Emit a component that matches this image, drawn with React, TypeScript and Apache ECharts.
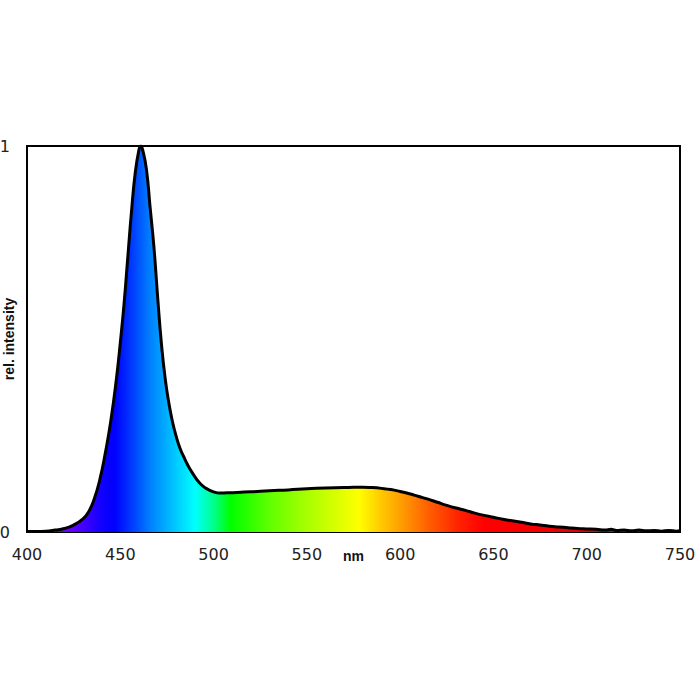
import React, { useEffect, useRef } from "react";
import * as echarts from "echarts";

const wavelengths = [
  400, 405, 410, 415, 420, 425, 430, 433, 436, 439, 442, 445, 448, 450, 452, 454, 456, 458, 460, 461, 462, 464, 466,
  468, 470, 472, 474, 476, 478, 480, 482, 484, 486, 488, 490, 492, 494, 496, 498, 500, 503, 510, 520, 530, 540, 550,
  560, 570, 575, 580, 585, 590, 595, 600, 605, 610, 615, 620, 625, 630, 635, 640, 645, 650, 655, 660, 665, 670, 675,
  680, 685, 690, 695, 700, 705, 710, 713, 716, 720, 724, 728, 732, 736, 740, 744, 748, 750,
];
const intensity = [
  0.001, 0.001, 0.002, 0.005, 0.009, 0.018, 0.034, 0.052, 0.085, 0.135, 0.205, 0.29, 0.4, 0.49, 0.59, 0.71, 0.83,
  0.93, 0.99, 1.0, 0.99, 0.94, 0.84, 0.74, 0.61, 0.49, 0.4, 0.335, 0.285, 0.247, 0.217, 0.195, 0.175, 0.158, 0.143,
  0.13, 0.12, 0.113, 0.108, 0.104, 0.101, 0.102, 0.104, 0.107, 0.109, 0.112, 0.114, 0.115, 0.116, 0.116, 0.115, 0.113,
  0.11, 0.105, 0.099, 0.092, 0.085, 0.077, 0.069, 0.062, 0.056, 0.049, 0.043, 0.038, 0.033, 0.029, 0.025, 0.021,
  0.018, 0.015, 0.013, 0.011, 0.009, 0.008, 0.007, 0.005, 0.007, 0.004, 0.005, 0.003, 0.005, 0.003, 0.004, 0.002,
  0.004, 0.002, 0.003,
];
const spectrumStops: [number, string][] = [
  [400, "#8a00ff"],
  [425, "#6000ff"],
  [440, "#1000ff"],
  [447, "#0000ff"],
  [457, "#0040ff"],
  [466, "#0080ff"],
  [478, "#00c0ff"],
  [490, "#00ffff"],
  [501, "#00ff80"],
  [509, "#00ff00"],
  [530, "#60ff00"],
  [550, "#a8ff00"],
  [568, "#e0ff00"],
  [578, "#ffff00"],
  [590, "#ffc800"],
  [600, "#ffa000"],
  [615, "#ff6000"],
  [632, "#ff2000"],
  [645, "#ff0000"],
  [700, "#e80000"],
  [750, "#d00000"],
];

export default function App() {
  const ref = useRef<HTMLDivElement>(null);
  useEffect(() => {
    if (!ref.current) return;
    const chart = echarts.init(ref.current, null, { renderer: "svg" });
    const xMin = 400;
    const xMax = 750;
    chart.setOption({
      animation: false,
      backgroundColor: "#ffffff",
      grid: {
        left: 27,
        right: 20,
        top: 146,
        bottom: 168,
        containLabel: false,
        outerBoundsMode: "none",
        show: true,
        borderColor: "#000",
        borderWidth: 2,
      },
      xAxis: {
        type: "value",
        min: xMin,
        max: xMax,
        interval: 50,
        name: "nm",
        nameLocation: "middle",
        nameGap: 17,
        nameMoveOverlap: false,
        nameTextStyle: { fontFamily: "Liberation Sans", fontWeight: "bold", fontSize: 14, color: "#111" },
        axisLine: { show: true, lineStyle: { color: "#000", width: 2 } },
        axisTick: { show: false },
        splitLine: { show: false },
        axisLabel: { fontFamily: "DejaVu Sans", fontSize: 16, color: "#222", margin: 14 },
      },
      yAxis: {
        type: "value",
        min: 0,
        max: 1,
        interval: 1,
        name: "rel. intensity",
        nameLocation: "middle",
        nameRotate: 90,
        nameGap: 11,
        nameMoveOverlap: false,
        nameTextStyle: { fontFamily: "Liberation Sans", fontWeight: "bold", fontSize: 14, color: "#111" },
        axisLine: { show: true, lineStyle: { color: "#000", width: 2 } },
        axisTick: { show: false },
        splitLine: { show: false },
        axisLabel: { fontFamily: "DejaVu Sans", fontSize: 16, color: "#222", margin: 17 },
      },
      series: [
        {
          type: "line",
          data: wavelengths.map((w, i) => [w, intensity[i]]),
          smooth: 0.5,
          showSymbol: false,
          lineStyle: { color: "#000", width: 3 },
          areaStyle: {
            opacity: 1,
            color: new echarts.graphic.LinearGradient(
              0,
              0,
              1,
              0,
              spectrumStops.map(([w, c]) => ({ offset: (w - xMin) / (xMax - xMin), color: c }))
            ),
          },
        },
      ],
    });
    return () => chart.dispose();
  }, []);
  return (
    <div
      ref={ref}
      style={{ position: "absolute", left: 0, top: 0, width: 700, height: 700, background: "#fff" }}
    />
  );
}
